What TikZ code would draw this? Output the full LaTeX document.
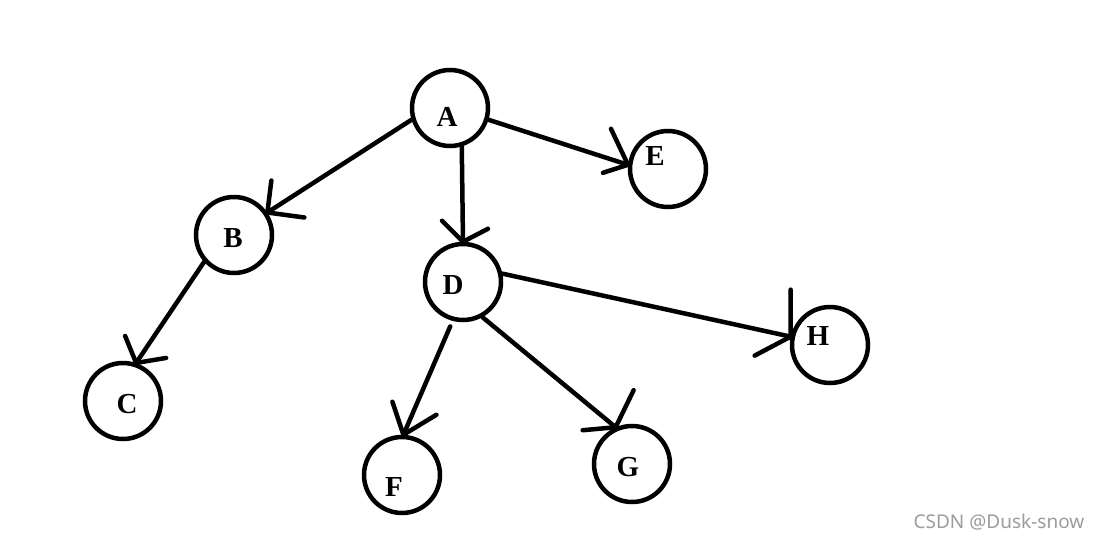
\documentclass[tikz,border=0pt]{standalone}
\usepackage{fontspec}
\setmainfont{Liberation Serif}
\newfontfamily\wmfont{Noto Sans}
\usetikzlibrary{calc}
\definecolor{wmgray}{HTML}{9C9C9C}
\tikzset{
  vtx/.style={circle, draw=black, line width=4.5pt, minimum size=76pt, inner sep=0pt},
  vlab/.style={inner sep=0pt, font=\fontsize{29}{29}\selectfont\bfseries},
  edge/.style={draw=black, line width=4.5pt, line cap=round, line join=miter},
  wm/.style={inner sep=0pt, text=wmgray, font=\wmfont\fontsize{19}{19}\selectfont}
}
\begin{document}
\begin{tikzpicture}[x=1pt,y=-1pt]
\useasboundingbox (0,0) rectangle (1101,541);
\fill[white] (0,0) rectangle (1101,541);
% circles
\node[vtx] (A) at (450,108) {};
\node[vtx] (B) at (234,235) {};
\node[vtx] (C) at (123,401) {};
\node[vtx] (D) at (463,282) {};
\node[vtx] (E) at (668,169) {};
\node[vtx] (F) at (402,475) {};
\node[vtx] (G) at (632,464) {};
\node[vtx] (H) at (830,345) {};
% labels
\node[vlab] (la) at (447,117) {A};
\node[vlab] (lb) at (233,238) {B};
\node[vlab] (lc) at (127,404) {C};
\node[vlab] (ld) at (453,285) {D};
\node[vlab] (le) at (655,156) {E};
\node[vlab] (lf) at (394,487) {F};
\node[vlab] (lg) at (628,467) {G};
\node[vlab] (lh) at (818,336) {H};
% edges
\draw[edge] (A.197) -- (B.34);
\draw[edge] ($(B.34)+(4,-32)$) -- (B.34) -- ($(B.34)+(37,5)$);
\draw[edge] (A.-17) -- (E.174);
\draw[edge] ($(E.174)+(-17,-36)$) -- (E.174) -- ($(E.174)+(-25,8)$);
\draw[edge] (A.-73) -- (D.90);
\draw[edge] ($(D.90)+(-21,-21)$) -- (D.90) -- ($(D.90)+(25,-13)$);
\draw[edge] (B.222) -- (C.71);
\draw[edge] ($(C.71)+(-11,-27)$) -- (C.71) -- ($(C.71)+(30,-5)$);
\draw[edge, shorten <=6pt] (D.255) -- (F.88);
\draw[edge] ($(F.88)+(-11,-33)$) -- (F.88) -- ($(F.88)+(33,-20)$);
\draw[edge] (D.299) -- (G.114);
\draw[edge] ($(G.114)+(18,-37)$) -- (G.114) -- ($(G.114)+(-33,3)$);
\draw[edge] (D.12) -- (H.168);
\draw[edge] ($(H.168)+(0,-47)$) -- (H.168) -- ($(H.168)+(-36,19)$);
% watermark
\node[wm] (wm) at (999,522) {CSDN @Dusk-snow};
\end{tikzpicture}
\end{document}
